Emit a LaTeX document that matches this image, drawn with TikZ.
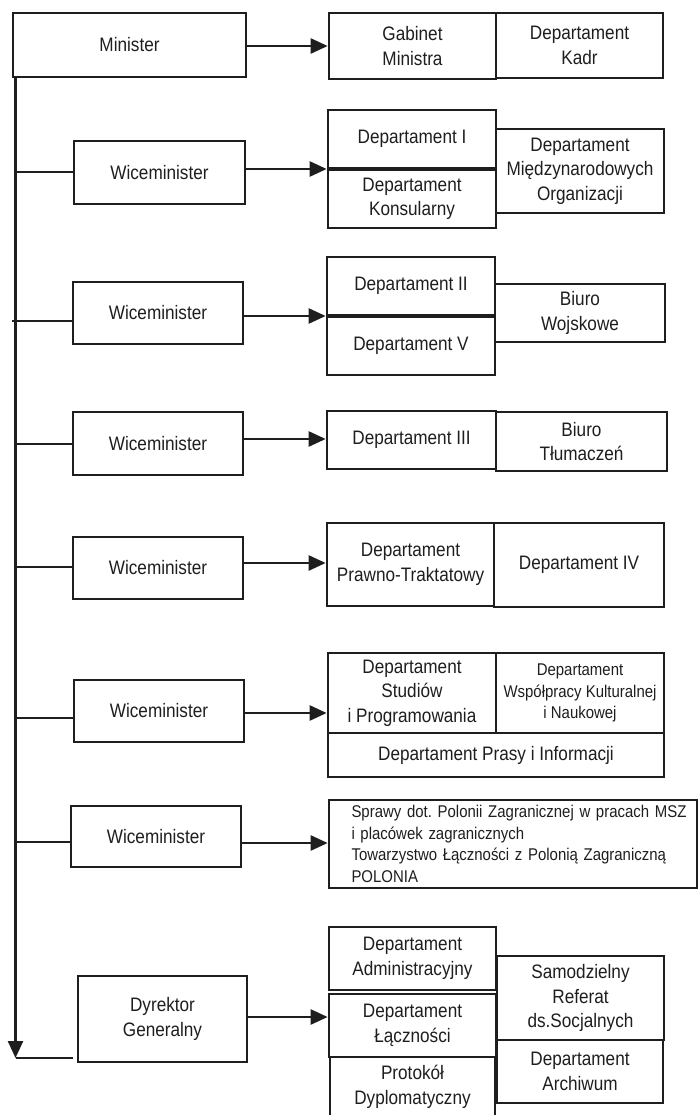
\documentclass[tikz,border=0pt]{standalone}
\usepackage{fontspec}
\setmainfont{Liberation Sans}[FakeStretch=0.88]
\usetikzlibrary{arrows.meta}
\frenchspacing
\definecolor{ink}{HTML}{1E1E1E}
\newcommand\mainsz{\fontsize{19.5}{24.5}\selectfont}
\newcommand\smallsz{\fontsize{17}{21.5}\selectfont}
\tikzset{
  bx/.style={draw=ink, line width=2.7pt, inner sep=0pt, align=center, font=\mainsz, text=ink},
  ln/.style={draw=ink, line width=2.5pt},
  arr/.style={ln, -{Triangle[length=17pt,width=15pt]}}
}
\begin{document}
\begin{tikzpicture}[x=1pt,y=-1pt]
\useasboundingbox (0,0) rectangle (699,1115);
% Row 1
\node[bx, minimum width=233pt, minimum height=64pt] (min) at (129.5,45) {Minister};
\node[bx, minimum width=167pt, minimum height=66pt] (gab) at (412.5,46) {Gabinet\\Ministra};
\node[bx, minimum width=167pt, minimum height=65pt] (kadr) at (579.5,45.5) {Departament\\Kadr};
% Row 2
\node[bx, minimum width=171pt, minimum height=63pt] (w2) at (159.5,172.5) {Wiceminister};
\node[bx, minimum width=168pt, minimum height=58pt] (d1) at (412,139) {Departament I};
\node[bx, minimum width=168pt, minimum height=58pt] (kons) at (412,199) {Departament\\Konsularny};
\node[bx, minimum width=168pt, minimum height=84pt] (mo) at (580,171) {Departament\\Międzynarodowych\\Organizacji};
% Row 3
\node[bx, minimum width=170pt, minimum height=62pt] (w3) at (158,313) {Wiceminister};
\node[bx, minimum width=168pt, minimum height=58pt] (d2) at (411,286) {Departament II};
\node[bx, minimum width=168pt, minimum height=58pt] (d5) at (411,346) {Departament V};
\node[bx, minimum width=170pt, minimum height=58pt] (bw) at (580,313) {Biuro\\Wojskowe};
% Row 4
\node[bx, minimum width=170pt, minimum height=63pt] (w4) at (158,443.5) {Wiceminister};
\node[bx, minimum width=169pt, minimum height=58pt] (d3) at (411.5,440) {Departament III};
\node[bx, minimum width=171pt, minimum height=59pt] (bt) at (581.5,441.5) {Biuro\\Tłumaczeń};
% Row 5
\node[bx, minimum width=170pt, minimum height=62pt] (w5) at (158,568) {Wiceminister};
\node[bx, minimum width=167pt, minimum height=83pt] (pt) at (410.5,564.5) {Departament\\Prawno-Traktatowy};
\node[bx, minimum width=170pt, minimum height=84pt] (d4) at (579,565) {Departament IV};
% Row 6
\node[bx, minimum width=170pt, minimum height=62pt] (w6) at (159,711) {Wiceminister};
\node[bx, minimum width=168pt, minimum height=80pt] (sp) at (412,693) {Departament\\Studiów\\i Programowania};
\node[bx, minimum width=168pt, minimum height=80pt, font=\smallsz] (wk) at (580,693) {Departament\\Współpracy Kulturalnej\\i Naukowej};
\node[bx, minimum width=336pt, minimum height=44pt] (pi) at (496,755) {Departament Prasy i Informacji};
% Row 7
\node[bx, minimum width=170pt, minimum height=61pt] (w7) at (156,836.5) {Wiceminister};
\node[bx, minimum width=368pt, minimum height=88pt, font=\smallsz, text width=323pt, align=left] (pol) at (513,844)
  {\mbox{Sprawy dot. Polonii Zagranicznej w pracach MSZ}\\\mbox{i placówek zagranicznych}\\\mbox{Towarzystwo Łączności z Polonią Zagraniczną}\\\mbox{POLONIA}};
% Row 8
\node[bx, minimum width=169pt, minimum height=86pt] (dg) at (162.5,1019) {Dyrektor\\Generalny};
\node[bx, minimum width=167pt, minimum height=63pt] (adm) at (412.5,958.5) {Departament\\Administracyjny};
\node[bx, minimum width=167pt, minimum height=63pt] (lacz) at (412.5,1025.5) {Departament\\Łączności};
\node[bx, minimum width=165pt, minimum height=60pt] (prot) at (412.5,1087) {Protokół\\Dyplomatyczny};
\node[bx, minimum width=167pt, minimum height=84pt] (sam) at (580.5,998) {Samodzielny\\Referat\\ds.Socjalnych};
\node[bx, minimum width=166pt, minimum height=63pt] (arch) at (580,1071.5) {Departament\\Archiwum};
% spine
\coordinate (vtop) at (15.5,77);
\coordinate (vbot) at (15.5,1058);
\draw[arr] (vtop) -- (vbot);
\coordinate (b2) at (15.5,172);
\coordinate (b3) at (12,321);
\coordinate (b4) at (15.5,444);
\coordinate (b5) at (15.5,567);
\coordinate (b6) at (15.5,718);
\coordinate (b7) at (15.5,842);
\coordinate (b8e) at (73,1058);
\draw[ln] (b2) -- (b2 -| w2.west);
\draw[ln] (b3) -- (b3 -| w3.west);
\draw[ln] (b4) -- (b4 -| w4.west);
\draw[ln] (b5) -- (b5 -| w5.west);
\draw[ln] (b6) -- (b6 -| w6.west);
\draw[ln] (b7) -- (b7 -| w7.west);
\draw[ln] (vbot) -- (b8e);
% arrows
\draw[arr] (min.east |- 0,46) -- (gab.west |- 0,46);
\draw[arr] (w2.east |- 0,169) -- (d1.west |- 0,169);
\draw[arr] (w3.east |- 0,316) -- (d2.west |- 0,316);
\draw[arr] (w4.east |- 0,439) -- (d3.west |- 0,439);
\draw[arr] (w5.east |- 0,563) -- (pt.west |- 0,563);
\draw[arr] (w6.east |- 0,713) -- (sp.west |- 0,713);
\draw[arr] (w7.east |- 0,843) -- (pol.west |- 0,843);
\draw[arr] (dg.east |- 0,1017) -- (lacz.west |- 0,1017);
\end{tikzpicture}
\end{document}
